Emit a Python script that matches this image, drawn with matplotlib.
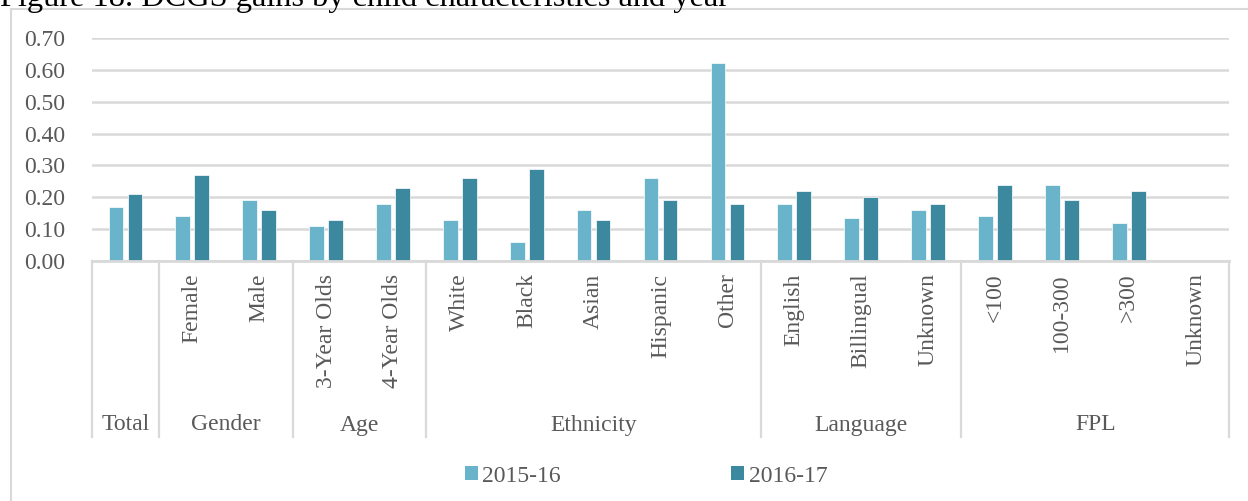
import numpy as np
import matplotlib
matplotlib.use('Agg')
from matplotlib import pyplot as plt
from matplotlib.lines import Line2D
from matplotlib.patches import Patch

# data
categories = ['', 'Female', 'Male', '3-Year Olds', '4-Year Olds',
              'White', 'Black', 'Asian', 'Hispanic', 'Other',
              'English', 'Billingual', 'Unknown',
              '<100', '100-300', '>300', 'Unknown']
groups = ['Total', 'Gender', 'Age', 'Ethnicity', 'Language', 'FPL']
group_sizes = [1, 2, 2, 5, 3, 4]
y2015 = [0.17, 0.14, 0.19, 0.11, 0.18, 0.13, 0.06, 0.16, 0.26, 0.62,
         0.18, 0.135, 0.16, 0.14, 0.24, 0.12, np.nan]
y2016 = [0.21, 0.27, 0.16, 0.13, 0.23, 0.26, 0.29, 0.13, 0.19, 0.18,
         0.22, 0.20, 0.18, 0.24, 0.19, 0.22, np.nan]
series = ['2015-16', '2016-17']

c1 = '#6AB4CB'
c2 = '#3C889E'
grid = '#D9D9D9'
txt = '#595959'

plt.rcParams['font.family'] = ['Liberation Serif', 'DejaVu Serif']

W, H = 1248, 501
fig = plt.figure(figsize=(W / 100, H / 100), dpi=100)
fig.patch.set_facecolor('white')

# plot area in pixels
x0, x1, ytop, ybot = 92, 1229, 38, 261
ax = fig.add_axes([x0 / W, 1 - ybot / H, (x1 - x0) / W, (ybot - ytop) / H])

n = len(categories)
x = np.arange(n)
bw = 0.22
ax.bar(x - 0.142, y2015, bw, color=c1, edgecolor='white', linewidth=0.5, zorder=3)
ax.bar(x + 0.142, y2016, bw, color=c2, edgecolor='white', linewidth=0.5, zorder=3)

ax.set_xlim(-0.5, n - 0.5)
ax.set_ylim(0, 0.70)
ax.set_yticks(np.arange(0, 0.71, 0.1))
ax.set_yticklabels(['%.2f' % v for v in np.arange(0, 0.71, 0.1)])
ax.yaxis.grid(True, color=grid, linewidth=1.8, zorder=0)
ax.set_axisbelow(True)
for s in ['top', 'right', 'left']:
    ax.spines[s].set_visible(False)
ax.spines['bottom'].set_color(grid)
ax.spines['bottom'].set_linewidth(2)
ax.spines['bottom'].set_zorder(4)
ax.tick_params(axis='y', length=0, pad=19, labelsize=17, labelcolor=txt)
ax.tick_params(axis='x', length=0, pad=9, labelsize=17, labelcolor=txt)
ax.set_xticks(x)
ax.set_xticklabels(categories, rotation=90, va='top', ha='center')

# group labels and dividers under the axis
trans = ax.get_xaxis_transform()
axh = ybot - ytop
lab_y = -(425 - ybot) / axh
end_y = -(437 - ybot) / axh
start = 0
edges = [-0.5]
for g, sz in zip(groups, group_sizes):
    ax.text(start + (sz - 1) / 2, lab_y, g, transform=trans, ha='center',
            va='center', fontsize=17, color=txt)
    start += sz
    edges.append(start - 0.5)
for e in edges:
    ax.plot([e, e], [0, end_y], transform=trans, color=grid, lw=1.6,
            clip_on=False, zorder=2)

# legend
handles = [Patch(facecolor=c1), Patch(facecolor=c2)]
leg = fig.legend(handles, series, loc='center', ncol=2,
                 bbox_to_anchor=(646 / W, 1 - 476 / H), frameon=False,
                 fontsize=17, handlelength=0.55, handleheight=0.55,
                 handletextpad=0.2, columnspacing=7.2, labelcolor=txt)

# outer chart frame (cut at right and bottom)
fig.add_artist(Line2D([11 / W, 11 / W], [0, 1 - 9 / H], transform=fig.transFigure,
                      color=grid, lw=1.5))
fig.add_artist(Line2D([11 / W, 1], [1 - 9 / H, 1 - 9 / H], transform=fig.transFigure,
                      color=grid, lw=1.5))

# document caption, mostly cut off at the top as in the source page
fig.text(0, 1 - 6 / H, 'Figure 18. DCGS gains by child characteristics and year',
         ha='left', va='baseline', fontsize=23.3, color='black')

fig.savefig('out.png', dpi=100)
